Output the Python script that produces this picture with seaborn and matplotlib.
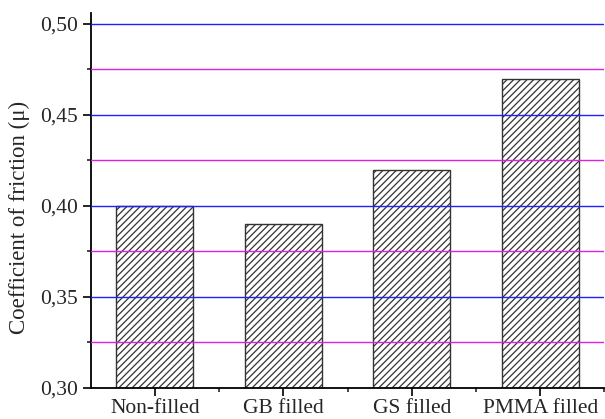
import matplotlib
matplotlib.use("Agg")
import matplotlib.pyplot as plt
import seaborn as sns
import pandas as pd
from matplotlib.ticker import MultipleLocator, FixedLocator, FuncFormatter

# data
categories = ["Non-filled", "GB filled", "GS filled", "PMMA filled"]
friction = [0.40, 0.39, 0.42, 0.47]

df = pd.DataFrame({"sample": categories, "cof": friction})

sns.set_style("ticks")
plt.rcParams['font.family'] = ['Liberation Serif', 'DejaVu Serif']
plt.rcParams['hatch.linewidth'] = 0.9
plt.rcParams['hatch.color'] = '#222222'

fig = plt.figure(figsize=(6.05, 4.19), dpi=100)
ax = fig.add_axes([0.150, 0.074, 0.849, 0.895])

sns.barplot(data=df, x="sample", y="cof", color="white", edgecolor="#333333",
            linewidth=1.0, width=0.6, ax=ax, zorder=1)
for p in ax.patches:
    p.set_hatch("/////")
    p.set_facecolor("white")

ax.set_xlim(-0.5, 3.5)
ax.set_ylim(0.30, 0.506)

# grid lines drawn over the bars
for y in [0.35, 0.40, 0.45, 0.50]:
    ax.axhline(y, color="#2020ff", lw=1.0, zorder=3)
for y in [0.325, 0.375, 0.425, 0.475]:
    ax.axhline(y, color="#e020e0", lw=1.0, zorder=3)

ax.yaxis.set_major_locator(MultipleLocator(0.05))
ax.yaxis.set_minor_locator(MultipleLocator(0.025))
ax.yaxis.set_major_formatter(FuncFormatter(lambda v, _: f"{v:.2f}".replace(".", ",")))
ax.xaxis.set_minor_locator(FixedLocator([0.5, 1.5, 2.5, 3.5]))

ax.tick_params(axis="both", which="major", direction="out", length=6, width=1.2,
               labelsize=15.5, color="black")
ax.tick_params(axis="x", which="major", pad=2)
ax.tick_params(axis="y", which="major", pad=3)
ax.tick_params(axis="both", which="minor", direction="out", length=3, width=1.2)

ax.set_xlabel("")
ax.set_ylabel("Coefficient of friction (\u03bc)", fontsize=16.5)
ax.yaxis.set_label_coords(-0.118, 0.455)

for s in ["top", "right"]:
    ax.spines[s].set_visible(False)
for s in ["left", "bottom"]:
    ax.spines[s].set_linewidth(1.3)
    ax.spines[s].set_color("black")

fig.savefig("out.png", dpi=100)
